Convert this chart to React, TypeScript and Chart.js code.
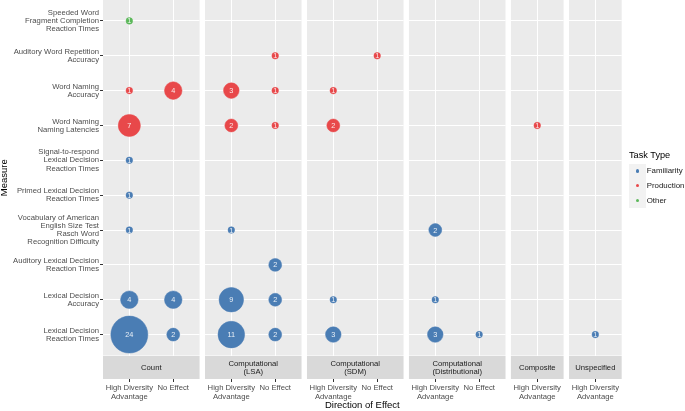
import React, { useEffect, useRef } from "react";
import { Chart, registerables } from "chart.js";

Chart.register(...registerables);

// ---------- DATA ----------
const measureLabels: string[] = [
  "Speeded Word\nFragment Completion\nReaction Times",
  "Auditory Word Repetition\nAccuracy",
  "Word Naming\nAccuracy",
  "Word Naming\nNaming Latencies",
  "Signal-to-respond\nLexical Decision\nReaction Times",
  "Primed Lexical Decision\nReaction Times",
  "Vocabulary of American\nEnglish Size Test\nRasch Word\nRecognition Difficulty",
  "Auditory Lexical Decision\nReaction Times",
  "Lexical Decision\nAccuracy",
  "Lexical Decision\nReaction Times",
];

const directionLabels: string[] = ["High Diversity\nAdvantage", "No Effect"];

const taskTypes: string[] = ["Familiarity", "Production", "Other"];
const taskColors: string[] = ["#4A7DB4", "#E8484A", "#5CB85A"];

const facetNames: string[] = [
  "Count",
  "Computational\n(LSA)",
  "Computational\n(SDM)",
  "Computational\n(Distributional)",
  "Composite",
  "Unspecified",
];

const facetDirections: string[][] = [
  ["High Diversity Advantage", "No Effect"],
  ["High Diversity Advantage", "No Effect"],
  ["High Diversity Advantage", "No Effect"],
  ["High Diversity Advantage", "No Effect"],
  ["High Diversity Advantage"],
  ["High Diversity Advantage"],
];

type Obs = [string, string, string, number]; // direction, measure, task type, count

const countFacet: Obs[] = [
  ["High Diversity Advantage", "Speeded Word Fragment Completion Reaction Times", "Other", 1],
  ["High Diversity Advantage", "Word Naming Accuracy", "Production", 1],
  ["High Diversity Advantage", "Word Naming Naming Latencies", "Production", 7],
  ["High Diversity Advantage", "Signal-to-respond Lexical Decision Reaction Times", "Familiarity", 1],
  ["High Diversity Advantage", "Primed Lexical Decision Reaction Times", "Familiarity", 1],
  ["High Diversity Advantage", "Vocabulary of American English Size Test Rasch Word Recognition Difficulty", "Familiarity", 1],
  ["High Diversity Advantage", "Lexical Decision Accuracy", "Familiarity", 4],
  ["High Diversity Advantage", "Lexical Decision Reaction Times", "Familiarity", 24],
  ["No Effect", "Word Naming Accuracy", "Production", 4],
  ["No Effect", "Lexical Decision Accuracy", "Familiarity", 4],
  ["No Effect", "Lexical Decision Reaction Times", "Familiarity", 2],
];

const lsaFacet: Obs[] = [
  ["High Diversity Advantage", "Word Naming Accuracy", "Production", 3],
  ["High Diversity Advantage", "Word Naming Naming Latencies", "Production", 2],
  ["High Diversity Advantage", "Vocabulary of American English Size Test Rasch Word Recognition Difficulty", "Familiarity", 1],
  ["High Diversity Advantage", "Lexical Decision Accuracy", "Familiarity", 9],
  ["High Diversity Advantage", "Lexical Decision Reaction Times", "Familiarity", 11],
  ["No Effect", "Auditory Word Repetition Accuracy", "Production", 1],
  ["No Effect", "Word Naming Accuracy", "Production", 1],
  ["No Effect", "Word Naming Naming Latencies", "Production", 1],
  ["No Effect", "Auditory Lexical Decision Reaction Times", "Familiarity", 2],
  ["No Effect", "Lexical Decision Accuracy", "Familiarity", 2],
  ["No Effect", "Lexical Decision Reaction Times", "Familiarity", 2],
];

const sdmFacet: Obs[] = [
  ["High Diversity Advantage", "Word Naming Accuracy", "Production", 1],
  ["High Diversity Advantage", "Word Naming Naming Latencies", "Production", 2],
  ["High Diversity Advantage", "Lexical Decision Accuracy", "Familiarity", 1],
  ["High Diversity Advantage", "Lexical Decision Reaction Times", "Familiarity", 3],
  ["No Effect", "Auditory Word Repetition Accuracy", "Production", 1],
];

const distributionalFacet: Obs[] = [
  ["High Diversity Advantage", "Vocabulary of American English Size Test Rasch Word Recognition Difficulty", "Familiarity", 2],
  ["High Diversity Advantage", "Lexical Decision Accuracy", "Familiarity", 1],
  ["High Diversity Advantage", "Lexical Decision Reaction Times", "Familiarity", 3],
  ["No Effect", "Lexical Decision Reaction Times", "Familiarity", 1],
];

const compositeFacet: Obs[] = [
  ["High Diversity Advantage", "Word Naming Naming Latencies", "Production", 1],
];

const unspecifiedFacet: Obs[] = [
  ["High Diversity Advantage", "Lexical Decision Reaction Times", "Familiarity", 1],
];

const facetData: Obs[][] = [countFacet, lsaFacet, sdmFacet, distributionalFacet, compositeFacet, unspecifiedFacet];

// ---------- STYLE / LAYOUT ----------
const FONT = "'Liberation Sans', Arial, Helvetica, sans-serif";
const W = 685;
const H = 411;
const PANEL_BOTTOM = 355.5;
const Y_AXIS_W = 103;
const UNIT = 43.9;
const GAP = 5.4;
const MARGIN = 14;
const R_MIN = 3.3;
const R_MAX = 18.5;
const TICK_FONT = 7.7;

const measureKey = (s: string) => s.replace(/\n/g, " ");
const measureIndex = (m: string) => measureLabels.findIndex((l) => measureKey(l) === m);
const directionLabel = (d: string) =>
  (directionLabels.find((l) => measureKey(l) === d) || d).split("\n");

const allCounts = facetData.flatMap((f) => f.map((d) => d[3]));
const nMin = Math.min(...allCounts);
const nMax = Math.max(...allCounts);
const sizeScale = (n: number) => R_MIN + (R_MAX - R_MIN) * Math.sqrt((n - nMin) / (nMax - nMin));

type Geo = { canvasLeft: number; canvasWidth: number; padLeft: number; padRight: number; panelLeft: number; panelRight: number };

const layout: Geo[] = (() => {
  let x = Y_AXIS_W;
  return facetNames.map((_, i) => {
    const w = (facetDirections[i].length - 1 + 1.2) * UNIT;
    const panelLeft = x;
    const panelRight = x + w;
    x = panelRight + GAP;
    const canvasLeft = i === 0 ? 0 : Math.floor(panelLeft - MARGIN);
    const canvasRight = Math.ceil(panelRight + MARGIN);
    return {
      canvasLeft,
      canvasWidth: canvasRight - canvasLeft,
      padLeft: i === 0 ? 0 : panelLeft - canvasLeft,
      padRight: canvasRight - panelRight,
      panelLeft,
      panelRight,
    };
  });
})();

const facetPlugin = {
  id: "facet",
  beforeDraw(chart: any, _args: any, opts: any) {
    const { ctx, chartArea: a } = chart;
    ctx.save();
    ctx.fillStyle = "#EBEBEB";
    ctx.fillRect(a.left, a.top, a.right - a.left, a.bottom - a.top);
    // strip
    const sTop = a.bottom + 0.5;
    const sH = 23;
    ctx.fillStyle = "#D9D9D9";
    ctx.fillRect(a.left, sTop, a.right - a.left, sH);
    const lines: string[] = String(opts.name).split("\n");
    ctx.fillStyle = "#1A1A1A";
    ctx.font = `${TICK_FONT}px ${FONT}`;
    ctx.textAlign = "center";
    ctx.textBaseline = "middle";
    const cx = (a.left + a.right) / 2;
    const cy = sTop + sH / 2 + 0.5;
    lines.forEach((l, i) => ctx.fillText(l, cx, cy + (i - (lines.length - 1) / 2) * 8));
    // x tick marks below strip
    const xs = chart.scales.x;
    ctx.strokeStyle = "#333333";
    ctx.lineWidth = 1;
    xs.ticks.forEach((t: any) => {
      const px = Math.round(xs.getPixelForValue(t.value)) + 0.5;
      ctx.beginPath();
      ctx.moveTo(px, sTop + sH);
      ctx.lineTo(px, sTop + sH + 3);
      ctx.stroke();
    });
    ctx.restore();
  },
  afterDatasetsDraw(chart: any) {
    const { ctx } = chart;
    ctx.save();
    ctx.fillStyle = "rgba(255,255,255,0.88)";
    ctx.font = `7.3px ${FONT}`;
    ctx.textAlign = "center";
    ctx.textBaseline = "middle";
    chart.data.datasets.forEach((ds: any, di: number) => {
      const meta = chart.getDatasetMeta(di);
      meta.data.forEach((el: any, i: number) => {
        ctx.fillText(String(ds.data[i].n), el.x, el.y + 0.5);
      });
    });
    ctx.restore();
  },
};

function FacetChart({ index }: { index: number }) {
  const ref = useRef<HTMLCanvasElement | null>(null);
  const geo = layout[index];
  const showY = index === 0;

  useEffect(() => {
    if (!ref.current) return;
    const dirs = facetDirections[index];
    const data = facetData[index];
    const datasets = taskTypes.map((t, ti) => ({
      label: t,
      data: data
        .filter((d) => d[2] === t)
        .map((d) => ({ x: dirs.indexOf(d[0]), y: measureIndex(d[1]), r: sizeScale(d[3]), n: d[3] })),
      backgroundColor: taskColors[ti],
      borderColor: taskColors[ti],
      borderWidth: 0.5,
    }));

    const chart = new Chart(ref.current, {
      type: "bubble",
      data: { datasets } as any,
      plugins: [facetPlugin as any],
      options: {
        responsive: false,
        animation: false,
        events: [],
        devicePixelRatio: window.devicePixelRatio || 1,
        layout: { autoPadding: false, padding: { left: geo.padLeft, right: geo.padRight, top: 0, bottom: 0 } },
        plugins: {
          legend: { display: false },
          tooltip: { enabled: false },
          facet: { name: facetNames[index] },
        } as any,
        scales: {
          x: {
            type: "linear",
            position: "bottom",
            min: -0.6,
            max: dirs.length - 1 + 0.6,
            afterBuildTicks: (s: any) => {
              s.ticks = dirs.map((_, i) => ({ value: i }));
            },
            afterFit: (s: any) => {
              s.height = H - PANEL_BOTTOM;
              s.paddingLeft = 0;
              s.paddingRight = 0;
            },
            ticks: {
              autoSkip: false,
              maxRotation: 0,
              minRotation: 0,
              padding: 28.6,
              color: "#4D4D4D",
              font: { family: FONT, size: TICK_FONT, lineHeight: 1.1 },
              callback: (v: any) => directionLabel(dirs[Number(v)]),
            },
            grid: { color: "#FFFFFF", lineWidth: 1, drawTicks: false },
            border: { display: false },
          },
          y: {
            type: "linear",
            reverse: true,
            min: -0.6,
            max: measureLabels.length - 1 + 0.6,
            afterBuildTicks: (s: any) => {
              s.ticks = measureLabels.map((_, i) => ({ value: i }));
            },
            afterFit: (s: any) => {
              s.width = showY ? Y_AXIS_W : 0;
              s.paddingTop = 0;
              s.paddingBottom = 0;
            },
            ticks: {
              display: showY,
              autoSkip: false,
              padding: 1,
              color: "#4D4D4D",
              font: { family: FONT, size: TICK_FONT, lineHeight: 1.06 },
              callback: (v: any) => measureLabels[Number(v)].split("\n"),
            },
            grid: {
              color: "#FFFFFF",
              lineWidth: 1,
              drawTicks: showY,
              tickLength: 3,
              tickColor: "#333333",
              tickWidth: 1,
            },
            border: { display: false },
            title: {
              display: showY,
              text: "Measure",
              color: "#000000",
              padding: 0,
              font: { family: FONT, size: 9.5, lineHeight: 1 },
            },
          },
        },
      } as any,
    });
    return () => chart.destroy();
  }, [index]);

  return (
    <canvas
      ref={ref}
      width={geo.canvasWidth}
      height={H}
      style={{ position: "absolute", left: geo.canvasLeft, top: 0, width: geo.canvasWidth, height: H }}
    />
  );
}

export default function App() {
  const spanCenter = (layout[0].panelLeft + layout[layout.length - 1].panelRight) / 2;
  const keyTop = 163.5;
  const keyH = 14.7;
  return (
    <div style={{ position: "absolute", left: 0, top: 0, width: W, height: H, background: "#FFFFFF", overflow: "hidden", fontFamily: FONT }}>
      {facetNames.map((_, i) => (
        <FacetChart key={i} index={i} />
      ))}
      <div
        style={{
          position: "absolute",
          left: spanCenter - 100,
          width: 200,
          top: 400,
          textAlign: "center",
          fontSize: 9.5,
          lineHeight: "10px",
          color: "#000",
        }}
      >
        Direction of Effect
      </div>
      <div style={{ position: "absolute", left: 629, top: 150, fontSize: 9.2, lineHeight: "10px", color: "#000" }}>Task Type</div>
      {taskTypes.map((t, i) => (
        <React.Fragment key={t}>
          <div
            style={{
              position: "absolute",
              left: 629,
              top: keyTop + i * keyH,
              width: 17,
              height: keyH,
              background: "#F2F2F2",
            }}
          >
            <div
              style={{
                position: "absolute",
                left: 7,
                top: keyH / 2 - 1.7,
                width: 3.4,
                height: 3.4,
                borderRadius: "50%",
                background: taskColors[i],
              }}
            />
          </div>
          <div
            style={{
              position: "absolute",
              left: 646.7,
              top: keyTop + i * keyH + keyH / 2 - 4.5,
              fontSize: 7.9,
              lineHeight: "9px",
              color: "#1A1A1A",
              whiteSpace: "nowrap",
            }}
          >
            {t}
          </div>
        </React.Fragment>
      ))}
    </div>
  );
}
